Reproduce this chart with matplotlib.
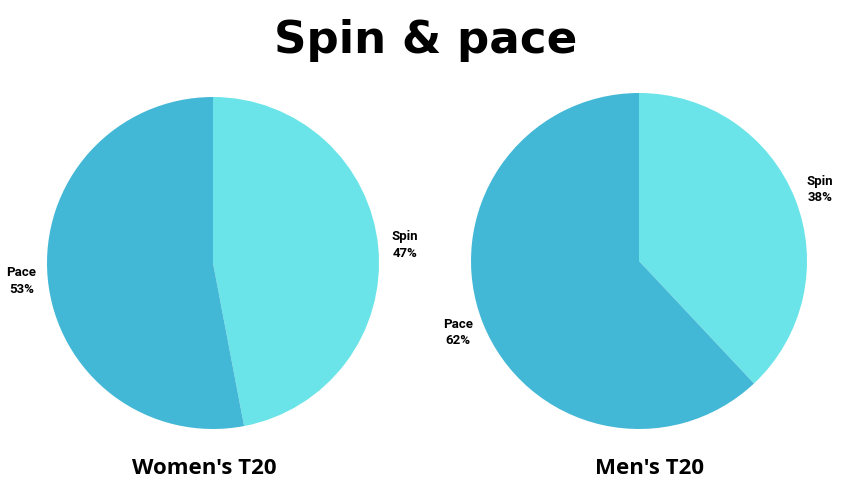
import matplotlib
matplotlib.use("Agg")
import matplotlib.pyplot as plt

title = "Spin & pace"
categories = ["Spin", "Pace"]
women_values = [47, 53]
men_values = [38, 62]
panel_titles = ["Women's T20", "Men's T20"]
colors = ["#6AE4E8", "#43B8D6"]

W, H = 862, 503
fig = plt.figure(figsize=(W / 100, H / 100), dpi=100)
fig.patch.set_facecolor("white")

fig.text(426 / W, 1 - 53 / H, title, ha="center", va="baseline",
         fontsize=32.5, fontweight="bold", family=["DejaVu Sans"])

panels = [
    (women_values, 213, 263, 166, panel_titles[0], 204),
    (men_values, 639, 261, 168, panel_titles[1], 650),
]

for vals, cx, cy, r, ptitle, tx in panels:
    ax = fig.add_axes([(cx - r) / W, (H - cy - r) / H, 2 * r / W, 2 * r / H])
    labels = [f"{c}\n{v}%" for c, v in zip(categories, vals)]
    wedges, texts = ax.pie(vals, labels=labels, colors=colors, startangle=90,
                           counterclock=False, labeldistance=1.16,
                           wedgeprops=dict(linewidth=0),
                           textprops=dict(fontsize=9.5, fontweight="bold",
                                          family=["Roboto", "DejaVu Sans"],
                                          ha="center", va="center",
                                          linespacing=1.35))
    for t in texts:
        t.set_horizontalalignment("center")
    ax.set_xlim(-1, 1)
    ax.set_ylim(-1, 1)
    ax.set_aspect("equal")
    ax.axis("off")
    fig.text(tx / W, 1 - 474 / H, ptitle, ha="center", va="baseline",
             fontsize=16, fontweight="bold", family=["Open Sans", "DejaVu Sans"])

fig.savefig("out.png", dpi=100, facecolor="white")
